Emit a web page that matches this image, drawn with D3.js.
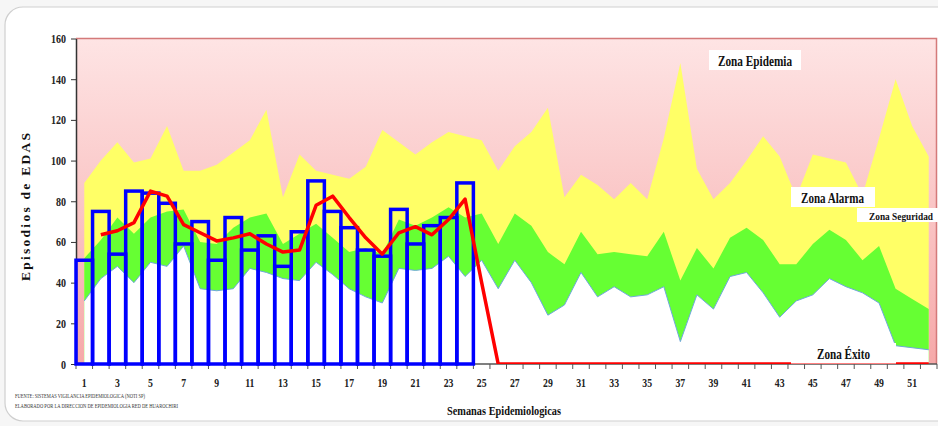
<!DOCTYPE html>
<html><head><meta charset="utf-8">
<script src="https://cdn.jsdelivr.net/npm/d3@7"></script>
<style>body{margin:0;background:#fff;} svg{display:block}</style>
</head><body><svg id="c" width="938" height="426"></svg>
<script>
// ---- data ----
const weeks = d3.range(1, 53);
const yTickValues = [0, 20, 40, 60, 80, 100, 120, 140, 160];
const xTickLabels = weeks.filter(w => w % 2 === 1);
// observed cases (bars), weeks 1-24
const casos = [51, 75, 54, 85, 84, 79, 59, 70, 51, 72, 56, 63, 48, 65, 90, 75, 67, 56, 53, 76, 59, 68, 72, 89];
// red trend line (weeks 1..52)
const tendencia = [null, 63.5, 65.5, 69.5, 85, 82.5, 68.5, 64.5, 60.5, 62, 64, 59, 55, 56, 78, 82.5, 72, 62, 54, 64.5, 67.5, 63.5, 71, 81, 40,
  0, 0, 0, 0, 0, 0, 0, 0, 0, 0, 0, 0, 0, 0, 0, 0, 0, 0, 0, 0, 0, 0, 0, 0, 0, 0, 0];
// upper limit of alarm zone (yellow)
const alarma = [89, 100, 109, 99, 101, 117, 95, 95, 98, 104, 110, 125, 82, 103, 95, 93, 91, 97, 115, 109, 103, 109, 114, 112, 110, 95,
  107, 114, 126, 82, 93, 88, 81, 89, 81, 111, 148, 96, 81, 89, 100, 112, 102, 82, 103, 101, 99, 83, 111, 140, 117, 102];
// upper limit of security zone (green)
const seguridad = [52, 61, 72, 64, 72, 75, 76, 60, 59, 67, 72, 74, 59, 64, 69, 62, 55, 57, 54, 71, 68, 72, 77, 72, 74, 59,
  74, 68, 55, 49, 65, 54, 55, 54, 53, 65, 41, 57, 47, 62, 67, 61, 49, 49, 59, 66, 61, 51, 58, 37, 32, 27];
// upper limit of success zone (white)
const exito = [31, 42, 48, 40, 50, 48, 58, 37, 36, 37, 47, 45, 42, 41, 50, 44, 37, 33, 30, 47, 46, 47, 53, 43, 51, 37,
  51, 40, 24, 29, 45, 33, 38, 33, 34, 38, 11, 34, 27, 43, 45, 35, 23, 31, 34, 42, 38, 35, 30, 9, 8, 7];

const zoneLabels = ["Zona Epidemia", "Zona Alarma", "Zona Seguridad", "Zona Éxito"];
const yTitle = "Episodios  de  EDAS";
const xTitle = "Semanas  Epidemiologicas";
const notes = ["FUENTE: SISTEMAS VIGILANCIA EPIDEMIOLOGICA (NOTI SP)", "ELABORADO POR LA  DIRECCION DE EPIDEMIOLOGIA  RED DE HUAROCHIRI"];

// ---- layout ----
const svg = d3.select("#c");
const L = 76, R = 937, T = 38.5, B = 364;
const x = d3.scaleBand().domain(weeks).range([L, R]).padding(0);
const cx = w => x(w) + x.bandwidth() / 2;
const y = d3.scaleLinear().domain([0, 160]).range([B, T]);
const serif = "'Liberation Serif', 'Times New Roman', serif";

// page + card
svg.append("rect").attr("width", 938).attr("height", 426).attr("fill", "#f6f6f6");
svg.append("rect").attr("x", 5).attr("y", 7).attr("width", 980).attr("height", 414).attr("rx", 18)
  .attr("fill", "#fff").attr("stroke", "#cfcfcf").attr("stroke-width", 1.2);

const defs = svg.append("defs");
const g = defs.append("linearGradient").attr("id", "pink").attr("x1", 0).attr("y1", 0).attr("x2", 0).attr("y2", 1);
g.append("stop").attr("offset", "0%").attr("stop-color", "#fee4e4");
g.append("stop").attr("offset", "100%").attr("stop-color", "#f6a9a9");
defs.append("clipPath").attr("id", "clip").append("rect")
  .attr("x", L).attr("y", T - 2).attr("width", R - L).attr("height", B - T + 2);

// plot background (epidemic zone)
svg.append("rect").attr("x", L).attr("y", T).attr("width", R - L).attr("height", B - T).attr("fill", "url(#pink)");

const area = arr => d3.area().x((d, i) => cx(weeks[i])).y0(y(0)).y1(d => y(d))(arr);
svg.append("path").attr("d", area(alarma)).attr("fill", "#ffff66");
svg.append("path").attr("d", area(seguridad)).attr("fill", "#66ff33");
svg.append("path").attr("d", area(exito)).attr("fill", "#ffffff");
svg.append("path").attr("d", d3.line().x((d, i) => cx(weeks[i])).y(d => y(d))(exito))
  .attr("fill", "none").attr("stroke", "#6fa8dc").attr("stroke-width", 1);

// plot border top/right
svg.append("path").attr("d", `M${L},${T}H${R - 0.5}V${B}`).attr("fill", "none").attr("stroke", "#d47a7a").attr("stroke-width", 1.5);

// axes
const yAxis = svg.append("g").attr("transform", `translate(${L},0)`)
  .call(d3.axisLeft(y).tickValues(yTickValues).tickSize(5).tickPadding(7.5).tickSizeOuter(0));
yAxis.select(".domain").attr("stroke", "#333").attr("stroke-width", 1.5);
yAxis.selectAll(".tick line").attr("stroke", "#333");
yAxis.selectAll("text").attr("font-family", serif).attr("font-weight", "bold").attr("font-size", 12.5)
  .attr("fill", "#222").attr("transform", "scale(0.8,1)");

const xAxis = svg.append("g").attr("transform", `translate(0,${B})`)
  .call(d3.axisBottom(x).tickValues(xTickLabels).tickSize(0).tickPadding(14));
xAxis.select(".domain").remove();
svg.append("line").attr("x1", L).attr("x2", R).attr("y1", B).attr("y2", B).attr("stroke", "#555").attr("stroke-width", 1.5);
xAxis.selectAll("text").attr("font-family", serif).attr("font-weight", "bold").attr("font-size", 13)
  .attr("fill", "#222").attr("transform", "scale(0.75,1)");
// x tick marks at category boundaries
svg.append("g").selectAll("line").data(weeks.concat([53])).join("line")
  .attr("x1", w => w === 53 ? R : x(w)).attr("x2", w => w === 53 ? R : x(w))
  .attr("y1", B).attr("y2", B + 5).attr("stroke", "#555").attr("stroke-width", 1);

// bars
svg.append("g").selectAll("rect").data(casos).join("rect")
  .attr("x", (d, i) => x(weeks[i])).attr("width", x.bandwidth())
  .attr("y", d => y(d)).attr("height", d => y(0) - y(d))
  .attr("fill", "none").attr("stroke", "#0000ff").attr("stroke-width", 3.5);

// red line
svg.append("path").attr("clip-path", "url(#clip)")
  .attr("d", d3.line().defined(d => d != null).x((d, i) => cx(weeks[i])).y(d => y(d))(tendencia))
  .attr("fill", "none").attr("stroke", "#ff0000").attr("stroke-width", 3.5)
  .attr("stroke-linejoin", "round");

// zone labels
const zl = [
  {t: zoneLabels[0], bx: 709, by: 50, bw: 92, bh: 20, tx: 718, ty: 66, tl: 74, fs: 14.5},
  {t: zoneLabels[1], bx: 791, by: 187, bw: 84, bh: 20, tx: 801, ty: 203, tl: 63, fs: 14},
  {t: zoneLabels[2], bx: 857, by: 208, bw: 81, bh: 14, tx: 869, ty: 220, tl: 64, fs: 11},
  {t: zoneLabels[3], bx: 791, by: 343, bw: 105, bh: 20.5, tx: 817, ty: 359, tl: 53, fs: 14}
];
zl.forEach(z => {
  svg.append("rect").attr("x", z.bx).attr("y", z.by).attr("width", z.bw).attr("height", z.bh).attr("fill", "#fff");
  svg.append("text").attr("x", z.tx).attr("y", z.ty).text(z.t)
    .attr("font-family", serif).attr("font-weight", "bold").attr("font-size", z.fs).attr("fill", "#111")
    .attr("textLength", z.tl).attr("lengthAdjust", "spacingAndGlyphs");
});

// titles
svg.append("text").attr("transform", "translate(29.5,207) rotate(-90)").attr("text-anchor", "middle")
  .attr("font-family", serif).attr("font-weight", "bold").attr("font-size", 13.5).attr("fill", "#111")
  .attr("textLength", 148).attr("lengthAdjust", "spacing").text(yTitle);
svg.append("text").attr("x", 447).attr("y", 415).text(xTitle)
  .attr("font-family", serif).attr("font-weight", "bold").attr("font-size", 13).attr("fill", "#111")
  .attr("textLength", 114).attr("lengthAdjust", "spacingAndGlyphs");

// notes
svg.append("text").attr("x", 15).attr("y", 398).text(notes[0])
  .attr("font-family", serif).attr("font-size", 7).attr("fill", "#333")
  .attr("textLength", 130).attr("lengthAdjust", "spacingAndGlyphs");
svg.append("text").attr("x", 15).attr("y", 408).text(notes[1])
  .attr("font-family", serif).attr("font-size", 7).attr("fill", "#333")
  .attr("textLength", 163).attr("lengthAdjust", "spacingAndGlyphs");
</script></body></html>
